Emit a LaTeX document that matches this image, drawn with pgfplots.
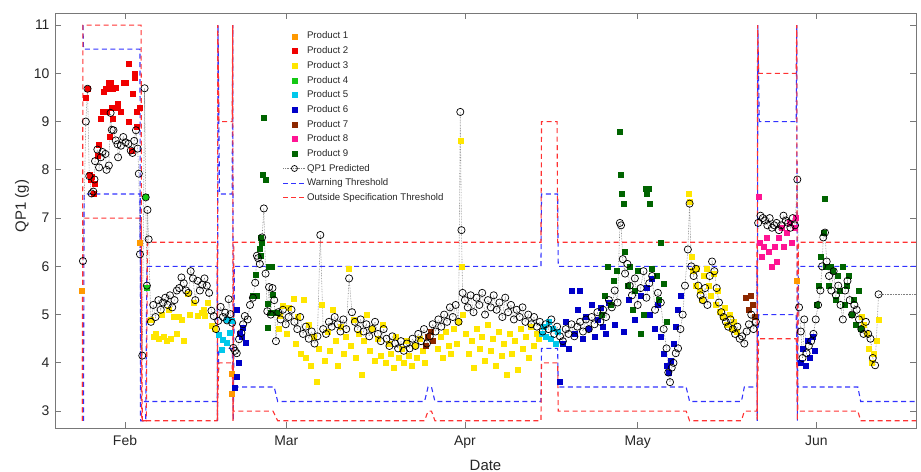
\documentclass[border=0pt]{standalone}
\usepackage{pgfplots}
\pgfplotsset{compat=1.18}
\usepackage{fontspec}
\setmainfont{Liberation Sans}
\definecolor{pa}{RGB}{255,153,0}
\definecolor{pb}{RGB}{240,0,0}
\definecolor{pc}{RGB}{255,230,0}
\definecolor{pd}{RGB}{20,200,20}
\definecolor{pe}{RGB}{0,200,235}
\definecolor{pf}{RGB}{0,0,200}
\definecolor{pg}{RGB}{140,40,0}
\definecolor{ph}{RGB}{255,20,147}
\definecolor{pi}{RGB}{0,100,0}
\definecolor{warn}{RGB}{50,50,255}
\definecolor{spec}{RGB}{255,50,50}
\definecolor{axgray}{RGB}{120,120,120}
\definecolor{labgray}{RGB}{38,38,38}
\begin{document}
\begin{tikzpicture}
\begin{axis}[
  scale only axis, width=861bp, height=415bp,
  xmin=19.85, xmax=169.3, ymin=2.65, ymax=11.25,
  xtick={32,60,91,121,152}, xticklabels={Feb,Mar,Apr,May,Jun},
  ytick={3,4,5,6,7,8,9,10,11},
  tick align=inside, major tick length=6bp,
  axis line style={draw=axgray, line width=0.8bp},
  tick style={draw=axgray, line width=0.8bp},
  tick label style={font=\fontsize{14}{16}\selectfont, text=labgray},
  xticklabel style={yshift=-4bp},
  yticklabel style={xshift=-2bp},
  /pgf/number format/assume math mode=true,
  xlabel={Date}, ylabel={QP1 (g)},
  label style={font=\fontsize{15}{17}\selectfont, text=labgray},
  xlabel style={at={(axis description cs:0.5,0)}, anchor=base, yshift=-42bp},
  ylabel style={at={([xshift=-33bp]axis description cs:0,0.535)}, anchor=center},
  legend image code/.code={\draw[mark repeat=2,mark phase=2,#1] plot coordinates {(0bp,0bp)(11bp,0bp)(22bp,0bp)};},
  legend style={at={(rel axis cs:0.261,0.962)}, anchor=north west, draw=none, fill=none,
    font=\fontsize{9.7}{11}\selectfont, row sep=4.2bp,
    nodes={inner sep=1bp}},
  legend cell align=left,
]
% Product 1
\addplot[only marks, mark=square*, mark size=2.5bp, color=pa] coordinates {
(24.5,5.5)(34.6,6.5)(50.6,3.78)(50.6,3.37)(148.6,5.7)};
\addlegendentry{\textcolor{labgray}{Product 1}}
% Product 2
\addplot[only marks, mark=square*, mark size=2.5bp, color=pb] coordinates {
(25.1,9.49)(25.5,9.68)(25.9,7.90)(26.1,7.80)(26.3,7.85)(26.6,7.50)(26.8,7.71)(27.3,8.30)(27.5,8.53)(27.7,9.06)
(28.1,9.20)(28.3,9.61)(28.6,9.68)(28.8,9.20)(28.9,9.68)(29.2,9.80)(29.3,8.69)(29.6,9.80)(29.7,9.29)(29.8,9.06)
(29.9,9.68)(30.3,9.70)(30.7,9.37)(30.8,9.29)(31.2,9.20)(31.7,9.80)(32.1,9.80)(32.6,9.00)(32.7,10.20)(33.2,8.40)
(33.4,9.58)(33.6,9.91)(33.7,10.00)(34.0,9.20)(34.1,8.89)(34.5,9.29)};
\addlegendentry{\textcolor{labgray}{Product 2}}
% Product 3
\addplot[only marks, mark=square*, mark size=2.5bp, color=pc] coordinates {
(36.4,4.90)(36.9,4.55)(37.4,4.60)(37.9,4.50)(38.3,5.00)(38.7,4.55)(39.2,4.45)(39.6,5.10)(40.0,4.50)(40.5,4.95)
(40.9,4.60)(41.4,4.95)(41.9,4.90)(42.2,4.45)(42.8,5.43)(43.2,5.00)(44.0,5.25)(44.7,4.97)(45.4,5.04)(45.7,5.11)
(45.9,4.97)(46.4,5.24)(47.1,4.76)(47.6,4.70)
(58.6,4.70)(58.9,4.97)(59.4,5.18)(60.0,4.60)(60.5,5.14)(61.2,5.32)
(61.6,4.40)(62.0,4.95)(62.5,4.20)(63.0,5.30)(63.4,4.10)(63.9,4.80)(64.3,3.95)(64.8,4.55)(65.2,3.60)(65.7,4.30)
(66.2,5.20)(66.6,4.05)(67.1,4.65)(67.6,4.25)(68.0,5.10)(68.5,4.45)(69.0,3.95)(69.4,4.75)(69.9,4.20)(70.3,4.55)
(70.8,5.95)(71.2,4.35)(71.7,4.90)(72.1,4.10)(72.6,4.60)(73.0,3.75)(73.5,4.45)(74.0,5.00)(74.4,4.25)(74.9,4.70)
(75.3,4.05)(75.8,4.50)(76.3,4.15)(76.7,4.80)(77.2,4.00)(77.7,4.40)(78.1,4.20)(78.6,3.90)(79.0,4.55)(79.5,4.10)
(80.0,4.30)(80.4,4.00)(80.9,4.45)(81.3,4.15)(81.8,3.95)(82.3,4.35)(82.7,4.10)(83.2,4.50)(83.6,4.25)(84.1,4.00)
(86.3,4.30)(86.8,4.55)(87.2,4.10)(87.7,4.65)(88.1,4.35)(88.6,4.20)(89.0,4.70)(89.5,4.40)(90.0,4.85)(90.2,8.60)
(90.4,6.00)(90.6,5.00)
(91.2,4.60)(91.7,4.20)(92.2,4.45)(92.6,3.90)(93.1,4.70)(93.6,4.30)(94.0,4.55)(94.5,4.05)(95.0,4.80)(95.4,4.25)
(95.9,4.50)(96.4,3.95)(96.8,4.65)(97.3,4.15)(97.8,4.40)(98.2,3.75)(98.7,4.60)(99.2,4.20)(99.6,4.45)(100.1,3.85)
(100.6,4.70)(101.0,4.30)(101.5,4.55)(102.0,4.10)(102.4,4.75)(102.9,4.35)(103.4,4.60)(103.8,4.50)
(129.8,7.50)(130.0,7.35)(130.3,6.20)(130.6,5.90)(131.0,5.60)(131.3,5.95)(131.7,5.50)(132.1,5.30)(132.5,5.80)(132.9,5.95)
(133.3,5.60)(133.7,5.40)(134.1,5.85)(134.5,5.20)(134.9,5.50)(135.3,5.05)(135.7,4.95)(136.1,5.15)(136.5,4.80)(136.9,5.00)
(137.3,4.70)(137.7,4.85)(138.1,4.65)
(159.8,4.95)(160.3,4.80)(160.7,4.60)(161.1,4.30)(161.6,4.00)(162.0,4.20)(162.5,4.45)(162.9,4.90)};
\addlegendentry{\textcolor{labgray}{Product 3}}
% Product 4
\addplot[only marks, mark=square*, mark size=2.5bp, color=pd] coordinates {
(35.8,5.55)(35.6,7.45)};
\addlegendentry{\textcolor{labgray}{Product 4}}
% Product 5
\addplot[only marks, mark=square*, mark size=2.5bp, color=pe] coordinates {
(48.3,4.58)(48.8,4.28)(48.9,4.49)(49.6,4.90)(49.7,4.41)(50.1,4.62)(50.5,4.87)
(104.3,4.60)(104.7,4.75)(105.1,4.55)(105.5,4.85)(105.9,4.50)(106.3,4.70)(106.7,4.40)(107.1,4.65)};
\addlegendentry{\textcolor{labgray}{Product 5}}
% Product 6
\addplot[only marks, mark=square*, mark size=2.5bp, color=pf] coordinates {
(51.1,3.48)(51.4,3.72)(51.4,5.11)(51.8,4.01)(51.9,4.60)(52.3,4.55)(52.5,4.72)(53.0,4.41)
(107.4,3.60)(108.0,4.40)(108.5,4.85)(109.0,4.30)(109.5,5.50)(110.0,4.60)(110.5,5.10)(111.0,5.50)(111.5,4.50)(112.0,4.95)
(112.5,4.70)(113.0,5.20)(113.5,4.55)(114.0,4.90)(114.5,5.15)(115.0,4.75)(115.5,4.60)(116.0,5.25)(117.0,4.80)(118.5,4.65)
(119.5,5.30)(120.5,4.90)(121.5,5.40)(122.5,5.55)(123.0,5.00)(123.5,5.75)(124.0,4.70)(124.5,5.20)(125.0,4.55)(125.5,4.20)
(126.0,3.95)(126.4,3.80)(126.8,4.05)(127.2,4.40)(127.6,4.75)(128.0,5.10)(128.4,5.40)
(149.3,4.00)(149.7,4.30)(150.1,3.95)(150.5,4.45)(150.9,4.10)(151.3,4.55)(151.7,4.25)};
\addlegendentry{\textcolor{labgray}{Product 6}}
% Product 7
\addplot[only marks, mark=square*, mark size=2.5bp, color=pg] coordinates {
(84.2,4.35)(84.6,4.55)(85.0,4.65)(85.4,4.45)
(139.8,5.35)(140.2,5.10)(140.6,5.40)(141.0,5.20)(141.3,4.95)};
\addlegendentry{\textcolor{labgray}{Product 7}}
% Product 8
\addplot[only marks, mark=square*, mark size=2.5bp, color=ph] coordinates {
(142.0,7.45)(142.2,6.50)(142.6,6.20)(142.9,6.40)(143.4,6.60)(143.7,6.30)(144.2,6.00)(144.7,6.40)(145.1,6.10)(145.5,6.60)
(146.0,6.80)(146.4,6.40)(146.9,6.70)(147.3,6.90)(147.8,6.50)(148.2,6.80)(148.5,7.00)};
\addlegendentry{\textcolor{labgray}{Product 8}}
% Product 9
\addplot[only marks, mark=square*, mark size=2.5bp, color=pi] coordinates {
(54.2,5.39)(54.6,5.82)(54.8,5.39)(55.3,6.36)(55.5,6.22)(55.6,6.59)(55.8,6.50)(55.9,7.90)(56.1,9.09)(56.4,7.80)
(56.7,5.22)(56.8,4.72)(57.0,6.00)(57.3,5.04)(57.5,6.00)(57.7,5.41)(58.4,5.04)
(114.8,5.00)(115.3,5.40)(115.8,6.00)(116.3,5.20)(116.8,5.70)(117.3,5.90)(117.9,8.80)(118.1,7.90)(118.3,7.50)(118.5,7.30)
(118.8,6.30)(119.2,5.60)(119.6,6.00)(120.1,5.10)(120.5,5.50)(121.0,5.90)(121.5,4.60)(122.0,5.00)(122.3,7.60)(122.6,7.50)
(122.9,7.60)(123.1,7.30)(123.4,5.95)(124.3,5.80)(124.7,5.30)(124.9,6.50)(125.5,5.65)(126.0,4.85)
(152.0,5.20)(152.4,5.60)(152.8,6.20)(153.2,6.70)(153.4,7.40)(153.7,6.00)(154.1,5.60)(154.5,6.00)(154.9,5.90)(155.3,5.30)
(155.7,5.80)(156.1,5.50)(156.5,6.00)(156.9,5.20)(157.3,5.60)(157.7,5.80)(158.1,5.00)(158.5,5.30)(158.9,4.80)(159.3,5.50)(159.7,4.70)};
\addlegendentry{\textcolor{labgray}{Product 9}}
% QP1 predicted
\addplot[color=gray, densely dotted, line width=0.6bp, mark=o, mark size=3.6bp,
  mark options={solid, draw=black, line width=0.7bp},
  legend image code/.code={\draw[gray, densely dotted, line width=0.6bp] (0bp,0bp)--(22bp,0bp); \draw[black, solid, line width=0.7bp] (11bp,0bp) circle[radius=3bp];}] coordinates {
(24.7,6.11)(25.2,9.00)(25.5,9.68)(25.8,7.87)(26.2,7.51)(26.5,7.55)(26.7,7.80)(26.8,8.18)(27.2,8.42)(27.5,8.05)
(27.8,8.26)(28.1,8.37)(28.6,8.33)(28.8,8.00)(29.2,8.09)(29.5,9.18)(29.7,8.83)(30.0,8.82)(30.4,8.61)(30.7,8.53)
(30.8,8.26)(31.3,8.50)(31.7,8.68)(32.1,8.57)(32.6,8.54)(33.0,8.40)(33.3,8.35)(33.6,8.60)(33.9,8.82)(34.2,8.44)
(34.4,7.92)(34.6,6.25)(35.0,4.15)(35.4,9.69)(35.6,7.43)(35.8,5.60)(35.9,7.17)(36.1,6.56)
(36.5,4.85)(36.9,5.20)(37.3,4.95)(37.8,5.30)(38.2,5.10)(38.6,5.25)(39.0,5.35)(39.4,5.20)(39.8,5.40)(40.2,5.15)
(40.6,5.30)(41.0,5.50)(41.4,5.55)(41.8,5.77)(42.2,5.65)(42.6,5.50)(43.0,5.45)(43.4,5.90)(43.8,5.75)(44.2,5.30)
(44.6,5.70)(45.0,5.50)(45.4,5.62)(45.8,5.75)(46.2,5.60)(46.6,5.45)(47.0,5.08)(47.4,4.97)(47.8,4.70)
(48.2,4.87)(48.6,5.16)(49.0,4.95)(49.4,5.04)(49.7,4.88)(50.0,5.32)(50.3,5.01)(50.6,4.83)(50.8,4.31)(51.1,4.25)
(51.4,4.20)(51.8,4.49)(52.2,4.62)(52.5,4.80)(52.8,4.97)(53.3,4.90)
(53.7,5.20)(54.2,5.35)(54.6,5.66)(54.9,6.22)(55.1,6.17)(55.4,6.05)(55.8,6.60)(56.1,7.20)(56.4,5.85)(56.7,5.07)
(57.0,5.57)(57.3,5.00)(57.6,5.55)(57.9,5.30)(58.2,4.45)(58.6,5.05)(59.0,4.90)(59.4,5.10)(59.9,4.80)(60.4,4.95)
(60.9,5.10)(61.4,4.85)(61.9,4.70)(62.4,4.95)(62.9,4.60)(63.4,4.75)(63.9,4.50)(64.4,4.65)(64.9,4.40)(65.4,4.55)
(65.9,6.65)(66.4,4.70)(66.9,4.60)(67.4,4.85)(67.9,4.75)(68.4,4.95)(68.9,4.80)(69.4,4.65)(69.9,4.90)(70.4,4.70)
(70.9,5.75)(71.4,5.05)(71.9,4.85)(72.4,4.70)(72.9,4.90)(73.4,4.65)(73.9,4.80)(74.4,4.55)(74.9,4.70)(75.4,4.85)
(75.9,4.60)(76.4,4.45)(76.9,4.70)(77.4,4.50)(77.9,4.35)(78.4,4.55)(78.9,4.40)(79.4,4.30)(79.9,4.45)(80.4,4.25)
(80.9,4.40)(81.4,4.30)(81.9,4.50)(82.4,4.35)(82.9,4.60)(83.4,4.45)(83.9,4.70)(84.4,4.40)(84.9,4.55)(85.4,4.80)
(85.9,4.65)(86.4,4.90)(86.9,4.75)(87.4,5.00)(87.9,4.85)(88.4,5.15)(88.9,4.95)(89.4,5.20)(89.9,4.85)(90.2,9.20)
(90.4,6.75)(90.6,5.45)
(91.0,5.30)(91.5,5.15)(92.0,5.40)(92.5,5.05)(93.0,5.35)(93.5,5.20)(94.0,5.45)(94.5,5.00)(95.0,5.30)(95.5,5.15)
(96.0,5.40)(96.5,5.10)(97.0,5.25)(97.5,4.95)(98.0,5.35)(98.5,5.05)(99.0,5.20)(99.5,4.90)(100.0,5.10)(100.5,4.95)
(101.0,5.15)(101.5,4.85)(102.0,5.00)(102.5,4.80)(103.0,4.95)(103.5,4.75)(104.0,4.85)
(104.5,4.65)(105.0,4.80)(105.5,4.70)(106.0,4.90)(106.5,4.60)(107.0,4.75)
(107.5,4.55)(108.0,4.45)(108.5,4.70)(109.0,4.60)(109.5,4.80)(110.0,4.55)(110.5,4.75)(111.0,4.85)(111.5,4.65)(112.0,4.90)
(112.5,4.70)(113.0,4.95)(113.5,4.80)(114.0,5.05)(114.5,4.85)(115.0,5.10)(115.5,4.95)(116.0,5.30)(116.5,5.15)(117.0,5.50)
(117.5,5.25)(117.9,6.90)(118.1,6.85)(118.4,6.15)(118.8,5.85)(119.2,6.05)(119.6,5.60)(120.0,5.40)(120.5,5.75)(121.0,5.20)
(121.5,5.55)(122.0,5.90)(122.5,5.35)(123.0,5.65)(123.5,5.80)(124.0,5.10)(124.5,5.45)(125.0,5.25)(125.5,4.70)(126.0,4.30)
(126.3,3.80)(126.6,3.60)(126.9,3.90)(127.2,4.00)(127.6,4.20)(128.0,4.30)(128.4,4.70)(128.8,5.00)(129.2,5.60)(129.7,6.35)
(130.0,7.30)(130.3,6.00)(130.7,5.80)(131.1,5.95)(131.5,5.60)(131.9,5.40)(132.3,5.30)(132.7,5.55)(133.1,5.20)(133.5,5.80)
(133.9,6.10)(134.3,5.90)(134.7,5.55)(135.1,5.25)(135.5,5.05)(135.9,4.95)(136.3,4.85)(136.7,4.75)(137.1,4.90)(137.5,4.70)
(137.9,4.60)(138.3,4.75)(138.7,4.50)(139.1,4.55)(139.5,4.40)(139.9,4.65)(140.3,4.80)(140.7,5.00)(141.1,4.70)(141.5,4.85)
(141.9,6.90)(142.3,7.05)(142.7,7.00)(143.1,6.95)(143.5,6.85)(143.9,7.00)(144.3,6.80)(144.7,6.85)(145.1,6.90)(145.5,6.75)
(145.9,6.85)(146.3,7.05)(146.7,6.95)(147.1,6.90)(147.5,6.80)(147.9,7.00)(148.3,6.85)(148.7,7.80)
(149.0,5.15)(149.3,4.65)(149.6,4.10)(149.9,4.90)(150.3,4.20)(150.7,4.35)(151.1,4.45)(151.5,4.60)(151.9,4.90)(152.3,5.20)
(152.7,5.50)(153.0,6.00)(153.2,6.60)(153.5,6.70)(153.8,6.10)(154.2,5.80)(154.6,5.50)(155.0,5.90)(155.4,5.40)(155.8,5.60)
(156.2,5.20)(156.6,4.90)(157.0,5.50)(157.4,5.70)(157.8,5.30)(158.2,5.00)(158.6,5.20)(159.0,5.10)(159.4,4.90)(159.8,4.70)
(160.2,4.60)(160.6,4.85)(161.0,4.60)(161.4,4.50)(161.8,4.10)(162.2,3.95)(162.8,5.42)};
\addlegendentry{\textcolor{labgray}{QP1 Predicted}}
\addplot[forget plot, color=gray, densely dotted, line width=0.6bp] coordinates {(162.8,5.42)(169.3,5.42)};
% Warning threshold
\addplot[color=warn, dash pattern=on 5bp off 3.5bp, line width=1.1bp,
  legend image code/.code={\draw[warn, dash pattern=on 5bp off 3bp, line width=1.1bp] (0bp,0bp)--(22bp,0bp);}] coordinates {
(24.7,11)(24.8,10.5)(34.6,10.5)(34.7,2.8)(35.6,2.8)(35.8,6.0)(48.0,6.0)(48.05,2.8)(48.15,11)(48.4,7.5)
(50.6,7.5)(50.7,11)(50.8,2.8)(51.0,6.0)(104.2,6.0)(104.3,7.5)(107.1,7.5)(107.2,6.0)(141.7,6.0)(141.75,2.8)
(141.85,11)(142.1,9.0)(148.5,9.0)(148.6,11)(148.7,2.8)(148.9,6.0)(169.3,6.0)};
\addlegendentry{\textcolor{labgray}{Warning Threshold}}
\addplot[forget plot, color=warn, dash pattern=on 5bp off 3.5bp, line width=1.1bp] coordinates {
(24.8,2.8)(24.9,7.5)(34.6,7.5)(34.8,3.2)(48.0,3.2)(48.3,4.3)(50.6,4.3)(50.8,3.5)(57.9,3.5)(58.5,3.2)
(84.0,3.2)(84.6,3.5)(85.2,3.5)(85.8,3.2)(104.2,3.2)(104.3,4.3)(107.1,4.3)(107.2,3.5)(129.4,3.5)(130.0,3.2)
(139.0,3.2)(139.5,3.5)(141.7,3.5)(142.0,5.0)(148.5,5.0)(148.8,3.5)(159.2,3.5)(159.7,3.2)(169.3,3.2)};
% Outside specification threshold
\addplot[color=spec, dash pattern=on 5bp off 3.5bp, line width=1.1bp,
  legend image code/.code={\draw[spec, dash pattern=on 5bp off 3bp, line width=1.1bp] (0bp,0bp)--(22bp,0bp);}] coordinates {
(24.6,2.8)(24.7,11)(34.8,11)(34.9,2.8)(35.7,2.8)(35.9,6.5)(48.0,6.5)(48.05,2.8)(48.1,11)(48.3,9.0)
(50.6,9.0)(50.7,11)(50.75,2.8)(50.9,6.5)(104.2,6.5)(104.3,9.0)(107.0,9.0)(107.1,6.5)(141.7,6.5)(141.75,2.8)
(141.8,11)(142.0,10.0)(148.5,10.0)(148.6,11)(148.7,2.8)(148.9,6.5)(169.3,6.5)};
\addlegendentry{\textcolor{labgray}{Outside Specification Threshold}}
\addplot[forget plot, color=spec, dash pattern=on 5bp off 3.5bp, line width=1.1bp] coordinates {
(24.6,2.8)(24.7,7.0)(34.8,7.0)(35.0,2.8)(48.0,2.8)(48.3,4.0)(50.6,4.0)(50.8,3.0)(57.7,3.0)(58.5,2.8)
(84.0,2.8)(84.6,3.0)(85.2,3.0)(85.8,2.8)(104.2,2.8)(104.3,4.0)(107.1,4.0)(107.2,3.0)(129.4,3.0)(130.0,2.8)
(139.0,2.8)(139.5,3.0)(141.7,3.0)(142.0,4.5)(148.5,4.5)(148.8,3.0)(159.2,3.0)(159.7,2.8)(169.3,2.8)};
\node[anchor=base, font=\fontsize{15}{17}\selectfont, text=labgray] at ([yshift=-42bp]rel axis cs:0.966,0) {2021};
\end{axis}
\pgfresetboundingbox
\path (-55bp,-44bp) rectangle (866bp,428bp);
\end{tikzpicture}
\end{document}
